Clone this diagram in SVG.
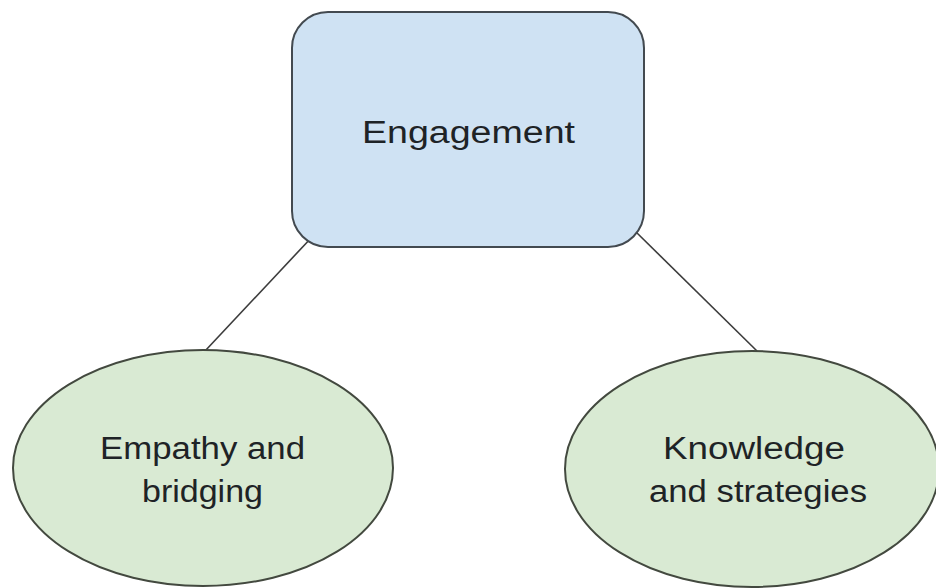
<svg xmlns="http://www.w3.org/2000/svg" width="936" height="588" viewBox="0 0 936 588">
<style>
.box{fill:#cfe2f3;stroke:#434a50;stroke-width:2}
.oval{fill:#d9ead3;stroke:#43493f;stroke-width:2}
.lbl{font-family:"Liberation Sans",Arial,sans-serif;font-size:31px;fill:#1e2326;text-anchor:middle}
.edge{stroke:#3c3c3c;stroke-width:1.6;fill:none}
</style>
<rect width="936" height="588" fill="#ffffff"/>
<g id="connectors">
<line class="edge" x1="312" y1="237" x2="205" y2="351"/>
<line class="edge" x1="636" y1="232" x2="757" y2="351"/>
</g>
<g id="engagement">
<rect class="box" x="292" y="12" width="352" height="235" rx="36" ry="36"/>
<text class="lbl" x="468.5" y="143" textLength="213" lengthAdjust="spacingAndGlyphs">Engagement</text>
</g>
<g id="empathy">
<ellipse class="oval" cx="203" cy="468" rx="190" ry="118"/>
<text class="lbl" x="202.5" y="459" textLength="205" lengthAdjust="spacingAndGlyphs">Empathy and</text>
<text class="lbl" x="202.5" y="502" textLength="121" lengthAdjust="spacingAndGlyphs">bridging</text>
</g>
<g id="knowledge">
<ellipse class="oval" cx="752" cy="469" rx="187" ry="118"/>
<text class="lbl" x="754" y="459" textLength="182" lengthAdjust="spacingAndGlyphs">Knowledge</text>
<text class="lbl" x="758" y="502" textLength="218" lengthAdjust="spacingAndGlyphs">and strategies</text>
</g>
</svg>
